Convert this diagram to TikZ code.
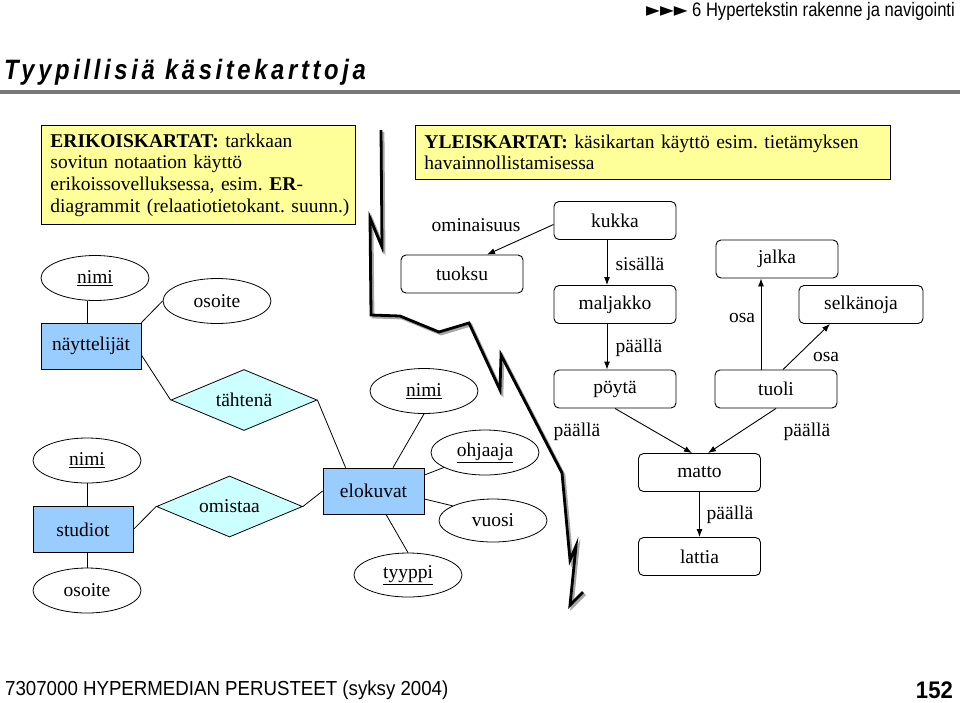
\documentclass[tikz,border=0pt]{standalone}
\usepackage{fontspec}
\setmainfont{Liberation Serif}
\newfontfamily\headfont[FakeStretch=0.92]{Liberation Sans}
\newfontfamily\hdrfont[FakeStretch=0.85]{Liberation Sans}
\newfontfamily\titlefont[FakeStretch=0.85,LetterSpace=13]{Liberation Sans}
\newfontfamily\symfont[FakeStretch=0.92]{DejaVu Sans}
\usetikzlibrary{shapes.geometric,arrows.meta,calc}
\definecolor{yfill}{RGB}{255,255,153}
\definecolor{erblue}{RGB}{153,204,255}
\definecolor{erdiam}{RGB}{204,255,255}
\definecolor{rulegray}{RGB}{120,120,120}
\frenchspacing
\tikzset{
  cbox/.style={draw, rounded corners=5pt, minimum width=122pt, minimum height=38pt, inner sep=0pt, line width=0.9pt},
  attr/.style={draw, ellipse, minimum width=108pt, minimum height=45pt, inner sep=0pt, line width=0.8pt},
  ent/.style={draw, fill=erblue, minimum width=100pt, minimum height=46pt, inner sep=0pt, line width=0.8pt},
  rel/.style={draw, fill=erdiam, diamond, shape aspect=2.4, minimum width=146pt, minimum height=61pt, inner sep=0pt, line width=0.8pt},
  lbl/.style={inner sep=0pt},
  yboxstyle/.style={draw, fill=yfill, line width=0.9pt, anchor=north west, align=left, inner xsep=9pt, inner ysep=0pt},
  arr/.style={line width=0.9pt, -{Latex[length=8pt,width=6pt]}},
  erline/.style={line width=0.8pt},
  bolt/.style={line width=2.8pt, line join=miter, line cap=butt}
}
\begin{document}
\begin{tikzpicture}[x=1pt,y=-1pt,font=\fontsize{19.5}{21.7}\selectfont]
\useasboundingbox (0,0) rectangle (960,702);

% header, title, rule, footer
\node[anchor=east, inner sep=0pt, font=\hdrfont\fontsize{19.5}{21}\selectfont] (hdr) at (955,11) {{\symfont ►►►} 6 Hypertekstin rakenne ja navigointi};
\node[anchor=west, inner sep=0pt, font=\titlefont\bfseries\itshape\fontsize{28}{30}\selectfont] (title) at (4,72) {Tyypillisiä käsitekarttoja};
\draw[line width=4pt, rulegray] (0,92) -- (960,92);
\node[anchor=west, inner sep=0pt, font=\headfont\fontsize{20.3}{22}\selectfont] (foot) at (5,690) {7307000 HYPERMEDIAN PERUSTEET (syksy 2004)};
\node[anchor=east, inner sep=0pt, font=\headfont\bfseries\fontsize{24}{26}\selectfont] (page) at (953,690) {152};

% yellow boxes
\node[yboxstyle, minimum width=314pt, minimum height=99pt, text width=296pt] (erik) at (41,125)
  {\textbf{ERIKOISKARTAT:} tarkkaan\\ sovitun notaation käyttö\\ erikoissovelluksessa, esim. \textbf{ER}-\\ \mbox{diagrammit (relaatiotietokant. suunn.)}};
\node[yboxstyle, minimum width=475pt, minimum height=54pt, text width=457pt] (yleis) at (415,125)
  {\textbf{YLEISKARTAT:} käsikartan käyttö esim. tietämyksen\\ havainnollistamisessa};

% lightning bolt
\draw[bolt, black!35, shift={(2,2)}] (381,130) -- (382,247) -- (370,218) -- (371,315) -- (400,316) -- (439,332) -- (469,323) -- (500,390) -- (501,355) -- (562,473) -- (570,560) -- (576,546) -- (570,605) -- (583,592);
\draw[bolt, black] (381,130) -- (382,247) -- (370,218) -- (371,315) -- (400,316) -- (439,332) -- (469,323) -- (500,390) -- (501,355) -- (562,473) -- (570,560) -- (576,546) -- (570,605) -- (583,592);

% ER diagram
\node[attr] (nimiA) at (95,278) {\underline{nimi}};
\node[attr] (osoiteA) at (217,301) {osoite};
\node[ent] (nay) at (91,346) {näyttelijät};
\node[rel] (tahtena) at (244,400) {tähtenä};
\node[attr] (nimiB) at (424,391) {\underline{nimi}};
\node[attr] (nimiC) at (87,460.5) {\underline{nimi}};
\node[ent] (studiot) at (83,529.5) {studiot};
\node[attr] (osoiteC) at (87,590.5) {osoite};
\node[rel] (omistaa) at (229.5,506.5) {omistaa};
\node[ent, minimum width=101pt] (elok) at (373.5,491) {elokuvat};
\node[attr] (ohjaaja) at (485,452.5) {\underline{ohjaaja}};
\node[attr, minimum height=43pt] (vuosi) at (493,520.5) {vuosi};
\node[attr, minimum height=44pt] (tyyppi) at (408,575) {\underline{tyyppi}};

\coordinate (nayT) at ($(nay.north)+(-4,0)$);
\draw[erline] (nayT) -- (nayT |- nimiA.south);
\draw[erline] (nay.north east) -- (osoiteA.west);
\draw[erline] ($(nay.east)+(0,9)$) -- (tahtena.west);
\draw[erline] (tahtena.east) -- ($(elok.north west)+(23,0)$);
\draw[erline] (nimiC.south) -- (nimiC.south |- studiot.north);
\draw[erline] (osoiteC.north) -- (osoiteC.north |- studiot.south);
\draw[erline] (studiot.east) -- (omistaa.west);
\draw[erline] (omistaa.east) -- (elok.west);
\draw[erline] (nimiB.south) -- ($(elok.north)+(19.5,0)$);
\draw[erline] ($(elok.east)+(0,-16)$) -- (ohjaaja.200);
\draw[erline] ($(elok.east)+(0,8)$) -- (vuosi.160);
\draw[erline] ($(elok.south)+(12.5,0)$) -- (tyyppi.north);

% concept map
\node[cbox] (kukka) at (615,220.5) {kukka};
\node[cbox] (tuoksu) at (462,274) {tuoksu};
\node[cbox] (maljakko) at (615,304.5) {maljakko};
\node[cbox] (poyta) at (615,389) {pöytä};
\node[cbox] (jalka) at (777,259) {jalka};
\node[cbox, minimum width=124pt] (selkanoja) at (861,304.5) {selkänoja};
\node[cbox] (tuoli) at (776,389) {tuoli};
\node[cbox] (matto) at (699.5,472.5) {matto};
\node[cbox] (lattia) at (699.5,556.5) {lattia};

\draw[arr] ($(kukka.west)+(0,4)$) -- ($(tuoksu.north)+(25,0)$);
\draw[arr] ($(kukka.south)+(-8,0)$) -- ($(maljakko.north)+(-8,0)$);
\draw[arr] ($(maljakko.south)+(-8,0)$) -- ($(poyta.north)+(-8,0)$);
\draw[arr] ($(tuoli.north)+(-15,0)$) -- ($(jalka.south)+(-16,0)$);
\draw[arr] ($(tuoli.north)+(7,0)$) -- ($(selkanoja.south)+(-31,0)$);
\draw[arr] (poyta.south) -- ($(matto.north)+(-7.5,0)$);
\draw[arr] (tuoli.south) -- ($(matto.north)+(8.5,0)$);
\draw[arr] (matto.south) -- (lattia.north);

\node[lbl] (l1) at (476,225) {ominaisuus};
\node[lbl] (l2) at (640,264) {sisällä};
\node[lbl] (l3) at (639,348) {päällä};
\node[lbl] (l4) at (742,318) {osa};
\node[lbl] (l5) at (826,357) {osa};
\node[lbl] (l6) at (577,432) {päällä};
\node[lbl] (l7) at (807,432) {päällä};
\node[lbl] (l8) at (730,515) {päällä};
\end{tikzpicture}
\end{document}
